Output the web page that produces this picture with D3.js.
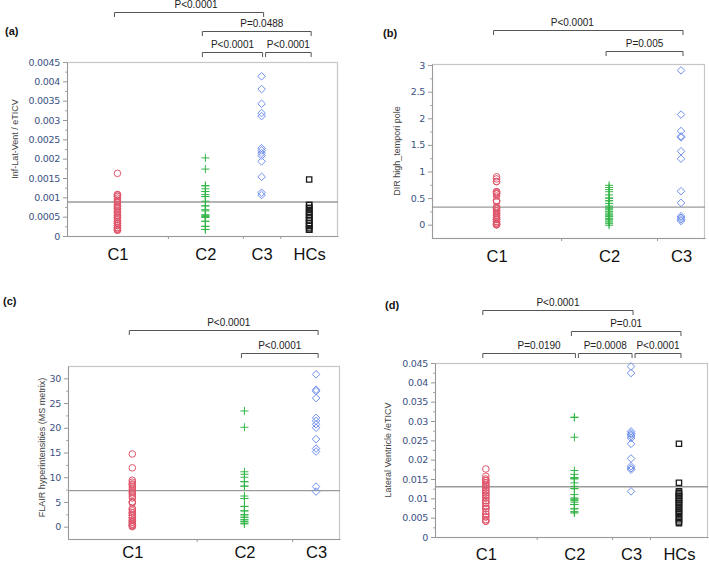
<!DOCTYPE html>
<html><head><meta charset="utf-8">
<script src="https://cdn.jsdelivr.net/npm/d3@7"></script>
<style>body{margin:0;background:#fff}svg{display:block}</style>
</head><body>
<script>
// ---------------- DATA ----------------
const CATEGORIES = ["C1", "C2", "C3", "HCs"];

// (a) Inf-Lat-Vent / eTICV
const A_C1 = [0.00162,0.00107,0.00107,0.00103,0.00103,0.00098,0.00093,0.00088,0.00088,0.00082,0.00077,0.00077,0.00072,0.00072,0.00067,0.00062,0.00062,0.00057,0.00052,0.00052,0.00047,0.00047,0.00042,0.00037,0.00037,0.00032,0.00032,0.00027,0.00027,0.00022,0.00022,0.00018,0.00018,0.00015,0.00015];
const A_C2 = [0.00202,0.00173,0.00130,0.00130,0.00122,0.00115,0.00115,0.00107,0.00102,0.00102,0.00090,0.00078,0.00078,0.00068,0.00065,0.00055,0.00052,0.00052,0.00050,0.00048,0.00038,0.00038,0.00025,0.00025,0.00017,0.00017];
const A_C3 = [0.00413,0.00380,0.00342,0.00318,0.00310,0.00227,0.00221,0.00214,0.00208,0.00193,0.00153,0.00112,0.00106];
const A_HC = [0.00146,0.00080,0.00080,0.00072,0.00072,0.00063,0.00063,0.00055,0.00055,0.00047,0.00047,0.00040,0.00040,0.00033,0.00033,0.00026,0.00026,0.00020,0.00016,0.00016];
const A_TICKS = [0,0.0005,0.001,0.0015,0.002,0.0025,0.003,0.0035,0.004,0.0045];
const A_MEAN = 0.00088;
const A_TESTS = [
  {from:"C1", to:"C3",  label:"P<0.0001", row:0},
  {from:"C2", to:"HCs", label:"P=0.0488", row:1},
  {from:"C2", to:"C3",  label:"P<0.0001", row:2},
  {from:"C3", to:"HCs", label:"P<0.0001", row:2}
];

// (b) DIR high_tempori pole
const B_C1 = [0.90,0.86,0.81,0.81,0.62,0.62,0.60,0.58,0.58,0.54,0.45,0.45,0.43,0.33,0.33,0.30,0.30,0.26,0.26,0.22,0.22,0.18,0.18,0.14,0.14,0.10,0.10,0.10,0.06,0.06,0.03,0.03,0.00,0.00,0.00];
const B_C2 = [0.74,0.70,0.66,0.62,0.56,0.50,0.50,0.45,0.45,0.40,0.35,0.33,0.30,0.28,0.25,0.22,0.20,0.18,0.16,0.15,0.12,0.10,0.07,0.05,0.02,-0.01];
const B_C3 = [2.90,2.07,1.76,1.66,1.64,1.38,1.24,0.63,0.41,0.16,0.13,0.10,0.07];
const B_TICKS = [0,0.5,1,1.5,2,2.5,3];
const B_MEAN = 0.33;
const B_TESTS = [
  {from:"C1", to:"C3", label:"P<0.0001", row:0},
  {from:"C2", to:"C3", label:"P=0.005",  row:1}
];

// (c) FLAIR hyperintensities (MS metrix)
const C_C1 = [14.7,11.9,9.4,9.0,8.6,8.6,8.2,7.8,7.4,7.0,7.0,6.6,6.2,5.8,5.0,5.0,4.8,3.6,3.6,3.2,2.8,2.8,2.3,2.3,1.8,1.8,1.3,1.3,0.9,0.9,0.5,0.5,0.2,0.2,0.0];
const C_C2 = [23.4,20.1,11.1,10.6,10.0,9.1,9.1,8.2,8.2,6.2,5.7,5.7,4.1,4.1,3.2,3.2,2.4,2.4,1.9,1.9,1.4,1.4,1.0,1.0,0.6,0.6];
const C_C3 = [30.8,27.7,27.4,26.0,22.0,21.4,20.7,20.0,17.7,15.8,15.2,8.1,7.1];
const C_TICKS = [0,5,10,15,20,25,30];
const C_MEAN = 7.3;
const C_TESTS = [
  {from:"C1", to:"C3", label:"P<0.0001", row:0},
  {from:"C2", to:"C3", label:"P<0.0001", row:1}
];

// (d) Lateral Ventricle /eTICV
const D_C1 = [0.0176,0.0157,0.0150,0.0146,0.0146,0.0140,0.0140,0.0134,0.0134,0.0127,0.0127,0.0120,0.0120,0.0114,0.0114,0.0108,0.0108,0.0101,0.0101,0.0094,0.0094,0.0088,0.0088,0.0079,0.0079,0.0073,0.0073,0.0066,0.0059,0.0059,0.0052,0.0052,0.0045,0.0041,0.0041];
const D_C2 = [0.0310,0.0309,0.0258,0.0172,0.0162,0.0153,0.0153,0.0152,0.0150,0.0140,0.0131,0.0125,0.0125,0.0110,0.0101,0.0098,0.0098,0.0094,0.0090,0.0084,0.0084,0.0073,0.0073,0.0065,0.0065,0.0062];
const D_C3 = [0.0441,0.0424,0.0273,0.0268,0.0265,0.0261,0.0256,0.0241,0.0203,0.0183,0.0178,0.0174,0.0118];
const D_HC = [0.0241,0.0140,0.0118,0.0114,0.0110,0.0106,0.0101,0.0097,0.0092,0.0088,0.0083,0.0078,0.0073,0.0068,0.0063,0.0058,0.0052,0.0046,0.0040,0.0036];
const D_TICKS = [0,0.005,0.01,0.015,0.02,0.025,0.03,0.035,0.04,0.045];
const D_MEAN = 0.0130;
const D_TESTS = [
  {from:"C1", to:"C3",  label:"P<0.0001", row:0},
  {from:"C2", to:"HCs", label:"P=0.01",   row:1},
  {from:"C1", to:"C2",  label:"P=0.0190", row:2},
  {from:"C2", to:"C3",  label:"P=0.0008", row:2},
  {from:"C3", to:"HCs", label:"P<0.0001", row:2}
];

// ---------------- STYLE / LAYOUT ----------------
const COLORS = {C1:"#e0566c", C2:"#33b548", C3:"#7090ee", HCs:"#1a1a1a"};
const W = 709, H = 562;

const symCircle = {draw(ctx, s){ const r = Math.sqrt(s/Math.PI); ctx.moveTo(r,0); ctx.arc(0,0,r,0,2*Math.PI); }};
const symDiamond = {draw(ctx, s){ const h = Math.sqrt(s)/2*1.3; ctx.moveTo(0,-h); ctx.lineTo(h,0); ctx.lineTo(0,h); ctx.lineTo(-h,0); ctx.closePath(); }};
const symPlus = {draw(ctx, s){ const a = Math.sqrt(s)/2; ctx.moveTo(-a,0); ctx.lineTo(a,0); ctx.moveTo(0,-a); ctx.lineTo(0,a); }};
const symSquare = {draw(ctx, s){ const a = Math.sqrt(s)/2; ctx.rect(-a,-a,2*a,2*a); }};
const SYMBOLS = {C1:[symCircle, 34], C2:[symPlus, 64], C3:[symDiamond, 34], HCs:[symSquare, 28]};

const PANELS = [
  {tag:"(a)", tagPos:[5,35], box:{x:67,y:62,w:271,h:174}, yDomain:[0,0.0045], ticks:A_TICKS,
   yLabel:"Inf-Lat-Vent / eTICV", yLabelX:15, yLabelDy:-10, mean:A_MEAN, rows:[-50,-31,-10], tests:A_TESTS,
   series:[["C1",A_C1],["C2",A_C2],["C3",A_C3],["HCs",A_HC]], nudges:{0:7, 1:5}, catPad:12},
  {tag:"(b)", tagPos:[383,37], box:{x:432,y:64,w:273,h:174}, yDomain:[-0.25,3.02], ticks:B_TICKS,
   yLabel:"DIR high_tempori pole", yLabelX:397, yLabelDy:0, mean:B_MEAN, rows:[-34,-13], tests:B_TESTS,
   series:[["C1",B_C1],["C2",B_C2],["C3",B_C3]], nudges:{0:-16}, catPad:12},
  {tag:"(c)", tagPos:[3,305], box:{x:68,y:366,w:272,h:173}, yDomain:[-2.49,32.49], ticks:C_TICKS,
   yLabel:"FLAIR hyperintensities (MS metrix)", yLabelX:42, yLabelDy:-5, mean:C_MEAN, rows:[-36,-13], tests:C_TESTS,
   series:[["C1",C_C1],["C2",C_C2],["C3",C_C3]], nudges:{0:5}, catPad:7},
  {tag:"(d)", tagPos:[385,309], box:{x:435,y:363,w:273,h:174}, yDomain:[0,0.045], ticks:D_TICKS,
   yLabel:"Lateral Ventricle /eTICV", yLabelX:388, yLabelDy:0, mean:D_MEAN, rows:[-53,-32,-10], tests:D_TESTS,
   series:[["C1",D_C1],["C2",D_C2],["C3",D_C3],["HCs",D_HC]], nudges:{2:10}, catPad:11}
];

// ---------------- DRAW ----------------
const svg = d3.select("body").append("svg").attr("width",W).attr("height",H)
  .style("font-family","'Liberation Sans', Arial, sans-serif");
svg.append("rect").attr("width",W).attr("height",H).attr("fill","#fff");

PANELS.forEach(cfg => {
  const g = svg.append("g");
  const b = cfg.box;
  const cats = cfg.series.map(s => s[0]);
  const counts = cfg.series.map(s => s[1].length);
  const total = d3.sum(counts);
  const xs = d3.scaleLinear().domain([0,total]).range([b.x, b.x+b.w]);
  let cum = 0; const bounds = []; const centers = [];
  counts.forEach(n => { centers.push(xs(cum + n/2)); cum += n; bounds.push(cum); });
  const xCat = d3.scaleOrdinal().domain(cats).range(centers);
  const y = d3.scaleLinear().domain(cfg.yDomain).range([b.y+b.h, b.y]);

  // frame
  g.append("rect").attr("x",b.x+0.5).attr("y",b.y+0.5).attr("width",b.w-1).attr("height",b.h)
    .attr("fill","none").attr("stroke","#c6c6c6").attr("stroke-width",1.2);

  // minor y ticks
  const step = cfg.ticks[1]-cfg.ticks[0];
  const minor = d3.range(cfg.ticks.length+1).map(i => cfg.ticks[0] - step/2 + i*step)
    .filter(v => v > cfg.yDomain[0] && v < cfg.yDomain[1]);
  g.append("g").attr("transform",`translate(${b.x},0)`)
    .call(d3.axisLeft(y).tickValues(minor).tickSize(2).tickFormat(""))
    .call(s => s.select(".domain").remove())
    .call(s => s.selectAll("line").attr("stroke","#aaa"));

  // y axis
  g.append("g").attr("transform",`translate(${b.x},0)`)
    .call(d3.axisLeft(y).tickValues(cfg.ticks).tickFormat(d3.format("~g")).tickSize(4).tickPadding(3).tickSizeOuter(0))
    .call(s => s.select(".domain").attr("stroke","#999"))
    .call(s => s.selectAll("line").attr("stroke","#999"))
    .call(s => s.selectAll("text").attr("fill","#3a5282").style("font-size","9.5px")
       .style("font-family","'DejaVu Sans', Verdana, sans-serif").style("letter-spacing","-0.3px"));

  // x axis boundaries
  g.append("g").attr("transform",`translate(0,${b.y+b.h})`)
    .call(d3.axisBottom(xs).tickValues(bounds.slice(0,-1)).tickSize(3).tickFormat("").tickSizeOuter(0))
    .call(s => s.select(".domain").attr("stroke","#999"))
    .call(s => s.selectAll("line").attr("stroke","#999"));

  // category labels
  g.append("g").attr("transform",`translate(0,${b.y+b.h})`)
    .call(d3.axisBottom(xCat).tickSize(0).tickPadding(cfg.catPad))
    .call(s => s.select(".domain").remove())
    .call(s => s.selectAll("text").attr("fill","#111").style("font-size","16.5px")
       .style("font-family","'Liberation Sans', Arial, sans-serif"));

  // y label
  g.append("text")
    .attr("transform",`translate(${cfg.yLabelX},${b.y+b.h/2+cfg.yLabelDy}) rotate(-90)`)
    .attr("text-anchor","middle").attr("dy","0.35em")
    .attr("fill","#444").style("font-size","9px").text(cfg.yLabel);

  // panel tag
  g.append("text").attr("x",cfg.tagPos[0]).attr("y",cfg.tagPos[1])
    .style("font-size","11px").style("font-weight","bold").attr("fill","#111").text(cfg.tag);

  // mean line
  g.append("line").attr("x1",b.x).attr("x2",b.x+b.w).attr("y1",y(cfg.mean)).attr("y2",y(cfg.mean))
    .attr("stroke","#9a9a9a").attr("stroke-width",1.4);

  // points
  cfg.series.forEach(([cat, vals]) => {
    const [type, size] = SYMBOLS[cat];
    const sym = d3.symbol().type(type).size(size);
    g.append("g").selectAll("path").data(vals).join("path")
      .attr("transform", d => `translate(${xCat(cat)},${y(d)})`)
      .attr("d", sym)
      .attr("fill","none")
      .attr("stroke", COLORS[cat])
      .attr("stroke-width", cat === "HCs" ? 1.3 : 1);
  });

  // significance brackets
  cfg.tests.forEach((t, i) => {
    const yr = b.y + cfg.rows[t.row];
    const shareEnd = cfg.tests.some(o => o !== t && o.row === t.row && o.from === t.to);
    const shareStart = cfg.tests.some(o => o !== t && o.row === t.row && o.to === t.from);
    const x1 = xCat(t.from) + (shareStart ? 4 : -3);
    const x2 = xCat(t.to) + (shareEnd ? 1 : 2);
    g.append("path").attr("d",`M${x1},${yr+5}V${yr+0.5}H${x2}V${yr+5}`)
      .attr("fill","none").attr("stroke","#555").attr("stroke-width",1);
    g.append("text").attr("x",(x1+x2)/2 + (cfg.nudges[i]||0)).attr("y",yr-4)
      .attr("text-anchor","middle").attr("fill","#222").style("font-size","10px").text(t.label);
  });
});
</script>
</body></html>
